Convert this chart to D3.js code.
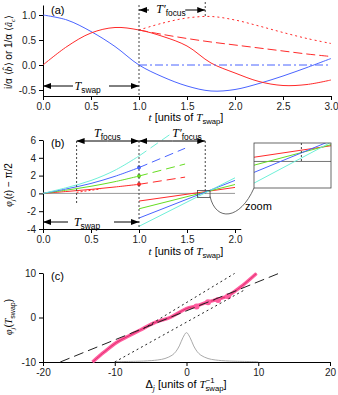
<!DOCTYPE html>
<html>
<head>
<meta charset="utf-8">
<script src="https://cdn.jsdelivr.net/npm/d3@7"></script>
<style>
body { margin: 0; background: #fff; }
text { font-family: "Liberation Sans", Arial, sans-serif; }
</style>
</head>
<body>
<script>
// ---- panel (a) data ----
const aT = [0, 0.25, 0.5, 0.75, 1, 1.25, 1.5, 1.75, 2, 2.25, 2.5, 2.75, 3];
const aBlue = [1.0, 0.9, 0.67, 0.37, 0.0, -0.24, -0.42, -0.52, -0.49, -0.37, -0.22, -0.05, 0.13];
const aRed = [0.0, 0.37, 0.64, 0.75, 0.70, 0.57, 0.38, 0.04, -0.16, -0.33, -0.41, -0.39, -0.30];
const aT2 = [1, 1.25, 1.5, 1.75, 2, 2.25, 2.5, 2.75, 3];
const aRedDash = [0.70, 0.61, 0.53, 0.46, 0.40, 0.34, 0.28, 0.22, 0.17];
const aRedDot = [0.70, 0.84, 0.94, 0.97, 0.90, 0.78, 0.65, 0.53, 0.43];
const aBlueFlatT = [1, 3];
const aBlueFlat = [0, 0];

// ---- panel (b) data ----
const bT = [0, 0.25, 0.5, 0.75, 1];
const bRed = [0, 0.22, 0.45, 0.72, 1.02];
const bGreen = [0, 0.38, 0.8, 1.32, 1.95];
const bBlue = [0, 0.52, 1.12, 1.92, 2.9];
const bCyan = [0, 0.66, 1.45, 2.6, 4.2];
const bDashT = [1, 1.48];
const bRedDash = [1.02, 1.83];
const bGreenDash = [1.95, 3.3];
const bBlueDash = [2.9, 5.07];
const bCyanDashT = [1, 1.32];
const bCyanDash = [4.2, 6.6];
const bRedDotT = [0.35, 0.6];
const bRedDot = [0.12, 0.5];
const bAfterT = [1, 2];
const bRedAfter = [-0.86, 0.67];
const bGreenAfter = [-1.73, 1.0];
const bBlueAfter = [-2.77, 1.46];
const bCyanAfter = [-3.7, 1.75];
const tFocusStart = 0.35, tSwap = 1, tFocusEnd = 1.69;

// ---- panel (c) data ----
const cPinkD = [-13.1, -11.5, -9.75, -8, -6.5, -4.2, -2.3, 0, 1.4, 3.0, 4.4, 5.8, 7.5, 9.75];
const cPinkPhi = [-10, -7.8, -5.6, -4.1, -2.85, -1.0, 0.0, 2.0, 2.6, 3.5, 4.1, 4.9, 6.8, 9.9];
const cMarkD = [1.4, 3.0, 4.4, 5.8];
const cMarkPhi = [2.5, 3.4, 3.95, 4.8];
const cDashD = [-17.6, 13];
const cDashPhi = [-10, 10];
const cDotLoD = [-10, 8.2];
const cDotLoPhi = [-10, 6.3];
const cDotHiD = [-6, 6.7];
const cDotHiPhi = [-2.5, 9.9];
const cLorD = [-10, -6, -4, -3, -2, -1.5, -1, -0.5, 0, 0.5, 1, 1.5, 2, 3, 4, 6, 10];
const cLorPhi = [-9.92, -9.79, -9.54, -9.22, -8.47, -7.69, -6.39, -4.53, -3.4, -4.53, -6.39, -7.69, -8.47, -9.22, -9.54, -9.79, -9.92];

const RED = '#ff2a2a', GREEN = '#66dd22', BLUE = '#4a64ff', CYAN = '#6ef0d8', PINK = '#ff5c9e';
const SERIF = '"Liberation Serif", "DejaVu Serif", serif';

const svg = d3.select('body').append('svg').attr('width', 338).attr('height', 395);

const defs = svg.append('defs');
defs.append('marker').attr('id', 'arr')
  .attr('viewBox', '0 0 8 6').attr('refX', 8).attr('refY', 3)
  .attr('markerWidth', 8).attr('markerHeight', 6).attr('markerUnits', 'userSpaceOnUse')
  .attr('orient', 'auto')
  .append('path').attr('d', 'M0,0 L8,3 L0,6 Z').attr('fill', '#000');

// text with italic / sub / sup pieces
function rich(t, parts) {
  let shift = 0;
  parts.forEach(([s, k]) => {
    const sp = t.append('tspan').text(s);
    let want = 0;
    if (k && k.includes('sub')) { want = 3; sp.attr('font-size', '0.7em'); }
    if (k && k.includes('sup')) { want = -5; sp.attr('font-size', '0.7em'); }
    if (k && k.includes('i')) sp.attr('font-family', SERIF).attr('font-style', 'italic');
    if (k && k.includes('back')) sp.attr('dx', -9);
    if (want !== shift) { sp.attr('dy', want - shift); shift = want; }
  });
  return t;
}

function styleAxis(g) {
  g.selectAll('text').attr('font-size', 10).attr('fill', '#222');
  g.selectAll('line, path').attr('stroke', '#000');
}

function line(g, xs, ys, x, y, color, dash, curve, w) {
  const pts = xs.map((d, i) => [d, ys[i]]);
  return g.append('path').datum(pts)
    .attr('d', d3.line().x(d => x(d[0])).y(d => y(d[1])).curve(curve || d3.curveLinear))
    .attr('fill', 'none').attr('stroke', color).attr('stroke-width', w || 1)
    .attr('stroke-dasharray', dash || null);
}

function vdot(g, xp, y1, y2) {
  g.append('line').attr('x1', xp).attr('x2', xp).attr('y1', y1).attr('y2', y2)
    .attr('stroke', '#444').attr('stroke-width', 1).attr('stroke-dasharray', '2,2');
}

function arrow(g, from, to, y) {
  g.append('line').attr('x1', from).attr('x2', to).attr('y1', y).attr('y2', y)
    .attr('stroke', '#000').attr('stroke-width', 1).attr('marker-end', 'url(#arr)');
}

const fmt1 = d => d.toFixed(1);
const fmt0 = d => String(d);

// ================= panel (a) =================
const xA = d3.scaleLinear().domain([0, 3]).range([43, 331]);
const yA = d3.scaleLinear().domain([-0.62, 1.2]).range([96, 5]);
const gA = svg.append('g');

gA.append('g').attr('transform', 'translate(0,96)')
  .call(d3.axisBottom(xA).tickValues([0, 0.5, 1, 1.5, 2, 2.5, 3]).tickFormat(fmt1).tickSize(4).tickSizeOuter(0))
  .call(styleAxis);
gA.append('g').attr('transform', 'translate(43,0)')
  .call(d3.axisLeft(yA).tickValues([-0.5, 0, 0.5, 1]).tickFormat(fmt1).tickSize(4).tickSizeOuter(0))
  .call(styleAxis);

line(gA, aT, aBlue, xA, yA, BLUE, null, d3.curveCatmullRom);
line(gA, aT, aRed, xA, yA, RED, null, d3.curveCatmullRom);
line(gA, aT2, aRedDash, xA, yA, RED, '9,4', d3.curveCatmullRom);
line(gA, aT2, aRedDot, xA, yA, RED, '2,3', d3.curveCatmullRom);
line(gA, aBlueFlatT, aBlueFlat, xA, yA, BLUE, '8,3,2,3');

vdot(gA, xA(tSwap), 5, 96);
vdot(gA, xA(tFocusEnd), 2, yA(0.97));

// T_swap arrow
arrow(gA, xA(0) + 30, xA(0), 86);
arrow(gA, xA(1) - 30, xA(1), 86);
rich(gA.append('text').attr('x', xA(0.465)).attr('y', 90).attr('text-anchor', 'middle').attr('font-size', 12),
  [['T', 'i'], ['swap', 'sub']]);
// T'_focus arrow
arrow(gA, xA(1) + 10, xA(1), 10);
arrow(gA, xA(tFocusEnd) - 20, xA(tFocusEnd), 10);
rich(gA.append('text').attr('x', 171).attr('y', 13).attr('text-anchor', 'middle').attr('font-size', 12),
  [['T′', 'i'], ['focus', 'sub']]);

gA.append('text').attr('x', 51).attr('y', 14).attr('font-size', 11).text('(a)');
rich(gA.append('text').attr('transform', 'translate(12,52) rotate(-90)').attr('text-anchor', 'middle').attr('font-size', 10),
  [['i/α ⟨'], ['b̂', 'i'], ['⟩ or 1/α ⟨'], ['â', 'i'], ['c', 'isub'], ['⟩']]);
rich(gA.append('text').attr('x', 186).attr('y', 121).attr('text-anchor', 'middle').attr('font-size', 11),
  [['t', 'i'], [' [units of '], ['T', 'i'], ['swap', 'sub'], [']']]);

// ================= panel (b) =================
const xB = d3.scaleLinear().domain([0, 2.06]).range([43, 43 + 2.06 * 96]);
const yB = d3.scaleLinear().domain([-4, 6]).range([229, 140]);
const gB = svg.append('g');

gB.append('g').attr('transform', 'translate(0,229)')
  .call(d3.axisBottom(xB).tickValues([0, 0.5, 1, 1.5, 2]).tickFormat(fmt1).tickSize(4).tickSizeOuter(0))
  .call(styleAxis);
gB.append('g').attr('transform', 'translate(43,0)')
  .call(d3.axisLeft(yB).tickValues([-4, -2, 0, 2, 4, 6]).tickFormat(fmt0).tickSize(4).tickSizeOuter(0))
  .call(styleAxis);

gB.append('line').attr('x1', xB(0)).attr('x2', xB(2)).attr('y1', yB(0)).attr('y2', yB(0))
  .attr('stroke', '#999').attr('stroke-width', 1);

const bSeries = [
  [RED, bRed, bRedDash, bDashT, bRedAfter],
  [GREEN, bGreen, bGreenDash, bDashT, bGreenAfter],
  [BLUE, bBlue, bBlueDash, bDashT, bBlueAfter],
  [CYAN, bCyan, bCyanDash, bCyanDashT, bCyanAfter]
];
bSeries.forEach(([c, pre, dash, dashT, after]) => {
  line(gB, bT, pre, xB, yB, c, null, d3.curveCatmullRom);
  line(gB, dashT, dash, xB, yB, c, '9,5');
  line(gB, bAfterT, after, xB, yB, c);
});
line(gB, bRedDotT, bRedDot, xB, yB, RED, '2,2');
bSeries.slice(0, 3).forEach(([c, pre]) => {
  gB.append('circle').attr('cx', xB(1)).attr('cy', yB(pre[pre.length - 1])).attr('r', 2).attr('fill', c);
});

vdot(gB, xB(tFocusStart), 141, 203);
vdot(gB, xB(tSwap), 141, 229);
vdot(gB, xB(tFocusEnd), 141, yB(0));

// T_focus arrow
arrow(gB, xB(0.67), xB(tFocusStart), 141);
arrow(gB, xB(0.67), xB(1), 141);
rich(gB.append('text').attr('x', xB(0.67)).attr('y', 137).attr('text-anchor', 'middle').attr('font-size', 12),
  [['T', 'i'], ['focus', 'sub']]);
// T'_focus arrow
arrow(gB, xB(1.35), xB(1), 141);
arrow(gB, xB(1.35), xB(tFocusEnd), 141);
rich(gB.append('text').attr('x', 187).attr('y', 137).attr('text-anchor', 'middle').attr('font-size', 12),
  [['T′', 'i'], ['focus', 'sub']]);
// T_swap arrow
arrow(gB, xB(0) + 25, xB(0), 222);
arrow(gB, xB(1) - 25, xB(1), 222);
rich(gB.append('text').attr('x', 87).attr('y', 226).attr('text-anchor', 'middle').attr('font-size', 12),
  [['T', 'i'], ['swap', 'sub']]);

gB.append('text').attr('x', 51).attr('y', 147).attr('font-size', 11).text('(b)');
rich(gB.append('text').attr('transform', 'translate(12,185) rotate(-90)').attr('text-anchor', 'middle').attr('font-size', 10),
  [['φ', 'i'], ['j', 'isub'], ['('], ['t', 'i'], [') − π/2']]);
rich(gB.append('text').attr('x', 186).attr('y', 255).attr('text-anchor', 'middle').attr('font-size', 11),
  [['t', 'i'], [' [units of '], ['T', 'i'], ['swap', 'sub'], [']']]);

// zoom box + inset
const zx0 = 1.61, zx1 = 1.74, zy0 = -0.46, zy1 = 0.32;
gB.append('rect').attr('x', xB(zx0)).attr('y', yB(zy1)).attr('width', xB(zx1) - xB(zx0)).attr('height', yB(zy0) - yB(zy1))
  .attr('fill', 'none').attr('stroke', '#444').attr('stroke-width', 0.8);
const xI = d3.scaleLinear().domain([zx0, zx1]).range([254, 331]);
const yI = d3.scaleLinear().domain([zy0, zy1]).range([188, 143]);
defs.append('clipPath').attr('id', 'inset').append('rect').attr('x', 254).attr('y', 143).attr('width', 77).attr('height', 45);
const gI = gB.append('g');
const gIc = gI.append('g').attr('clip-path', 'url(#inset)');
gIc.append('line').attr('x1', 254).attr('x2', 331).attr('y1', yI(0)).attr('y2', yI(0)).attr('stroke', '#777');
bSeries.forEach(([c, , , , after]) => line(gIc, bAfterT, after, xI, yI, c));
vdot(gIc, xI(tFocusEnd), 143, yI(0));
gI.append('rect').attr('x', 254).attr('y', 143).attr('width', 77).attr('height', 45)
  .attr('fill', 'none').attr('stroke', '#444').attr('stroke-width', 0.8);
gB.append('path').attr('d', `M${xB(zx1)},${yB(zy0) - 1} C216,222 240,220 254,188`)
  .attr('fill', 'none').attr('stroke', '#444').attr('stroke-width', 0.8);
gB.append('text').attr('x', 245).attr('y', 210).attr('font-size', 11).text('zoom');

// ================= panel (c) =================
const xC = d3.scaleLinear().domain([-20, 20]).range([43, 330]);
const yC = d3.scaleLinear().domain([-10, 10]).range([362, 273]);
const gC = svg.append('g');

gC.append('g').attr('transform', 'translate(0,362)')
  .call(d3.axisBottom(xC).tickValues([-20, -10, 0, 10, 20]).tickFormat(fmt0).tickSize(4).tickSizeOuter(0))
  .call(styleAxis);
gC.append('g').attr('transform', 'translate(43,0)')
  .call(d3.axisLeft(yC).tickValues([-10, 0, 10]).tickFormat(fmt0).tickSize(4).tickSizeOuter(0))
  .call(styleAxis);

line(gC, cLorD, cLorPhi, xC, yC, '#aaa', null, d3.curveCatmullRom);
line(gC, cPinkD, cPinkPhi, xC, yC, PINK, null, d3.curveCatmullRom, 3.5);
line(gC, cPinkD, cPinkPhi, xC, yC, '#e0306e', null, d3.curveCatmullRom, 1);
cMarkD.forEach((d, i) => {
  gC.append('circle').attr('cx', xC(d)).attr('cy', yC(cMarkPhi[i])).attr('r', 3).attr('fill', PINK);
});
line(gC, cDashD, cDashPhi, xC, yC, '#222', '10,5');
line(gC, cDotLoD, cDotLoPhi, xC, yC, '#222', '2,3');
line(gC, cDotHiD, cDotHiPhi, xC, yC, '#222', '2,3');

gC.append('text').attr('x', 51).attr('y', 280).attr('font-size', 11).text('(c)');
rich(gC.append('text').attr('transform', 'translate(12,317) rotate(-90)').attr('text-anchor', 'middle').attr('font-size', 10),
  [['φ', 'i'], ['j', 'isub'], ['('], ['T', 'i'], ['swap', 'sub'], [')']]);
rich(gC.append('text').attr('x', 186).attr('y', 388).attr('text-anchor', 'middle').attr('font-size', 11),
  [['Δ'], ['j', 'isub'], [' [units of '], ['T', 'i'], ['−1', 'sup'], ['swap', 'subback'], [']']]);
</script>
</body>
</html>
